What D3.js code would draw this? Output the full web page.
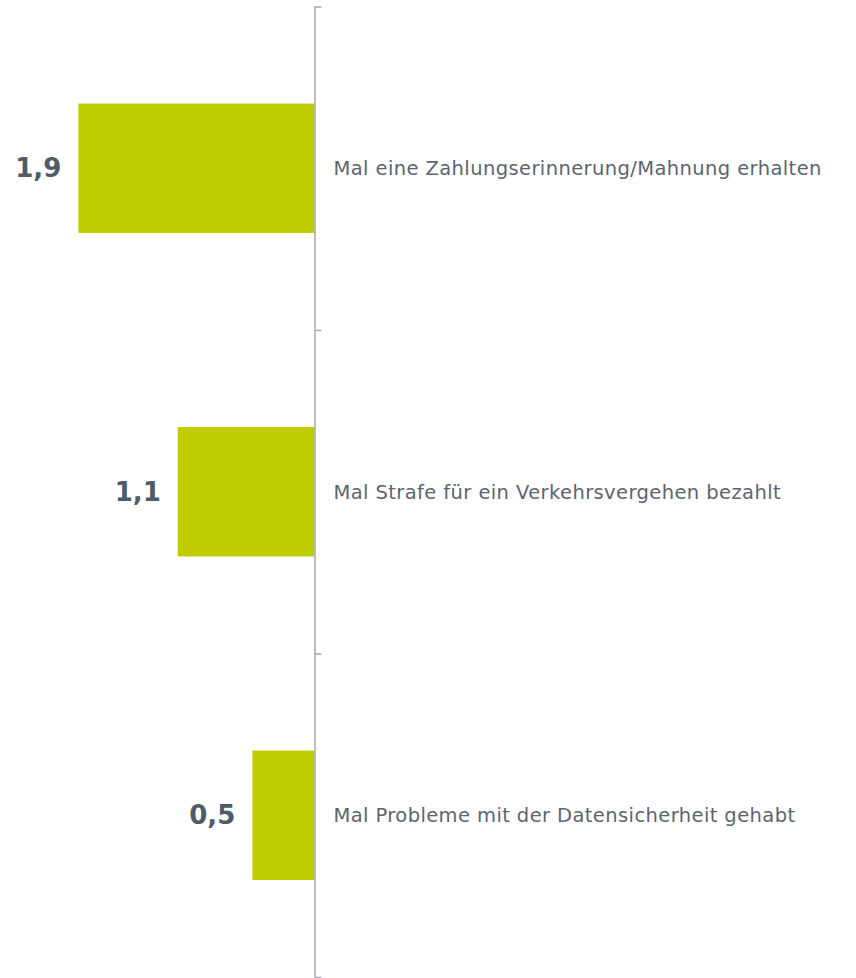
<!DOCTYPE html>
<html>
<head>
<meta charset="utf-8">
<script src="https://cdn.jsdelivr.net/npm/d3@7"></script>
<style>
  body { margin: 0; background: #fff; }
  .axis path, .axis line { stroke: #a3a8ae; stroke-width: 1.5; }
  .value { font-family: Verdana, "DejaVu Sans", sans-serif; font-weight: bold; font-size: 26px; fill: #4e5b68; }
  .cat { font-family: Verdana, "DejaVu Sans", sans-serif; font-size: 19.5px; letter-spacing: 0.4px; fill: #5b6571; }
</style>
</head>
<body>
<script>
// data
var categories = [
  'Mal eine Zahlungserinnerung/Mahnung erhalten',
  'Mal Strafe für ein Verkehrsvergehen bezahlt',
  'Mal Probleme mit der Datensicherheit gehabt'
];
var values = [1.9, 1.1, 0.5];
var valueLabels = ['1,9', '1,1', '0,5'];

var width = 856, height = 978;
var axisX = 314.5;

var svg = d3.select('body').append('svg')
  .attr('width', width)
  .attr('height', height);

// bars grow to the left of the axis
var x = d3.scaleLinear().domain([0, 2]).range([0, 248.6]);
var y = d3.scaleBand()
  .domain(categories)
  .range([6.5, 977])
  .paddingInner(0.6)
  .paddingOuter(0.3);

// axis with ticks at the band boundaries
var yb = d3.scaleLinear().domain([0, categories.length]).range([6.5, 977]);
var yAxis = d3.axisRight(yb)
  .tickValues(d3.range(categories.length + 1))
  .tickFormat('')
  .tickSize(7)
  .tickSizeOuter(0);

svg.selectAll('.bar')
  .data(values)
  .enter().append('rect')
  .attr('class', 'bar')
  .attr('x', function (d) { return axisX - x(d); })
  .attr('y', function (d, i) { return y(categories[i]); })
  .attr('width', function (d) { return x(d); })
  .attr('height', y.bandwidth())
  .attr('fill', '#bfcd00');

svg.append('g')
  .attr('class', 'axis')
  .attr('transform', 'translate(' + axisX + ',0)')
  .call(yAxis);

svg.selectAll('.value')
  .data(values)
  .enter().append('text')
  .attr('class', 'value')
  .attr('x', function (d) { return axisX - x(d) - 17; })
  .attr('y', function (d, i) { return y(categories[i]) + y.bandwidth() / 2; })
  .attr('dy', '0.35em')
  .attr('text-anchor', 'end')
  .text(function (d, i) { return valueLabels[i]; });

svg.selectAll('.cat')
  .data(categories)
  .enter().append('text')
  .attr('class', 'cat')
  .attr('x', axisX + 19)
  .attr('y', function (d) { return y(d) + y.bandwidth() / 2; })
  .attr('dy', '0.35em')
  .text(function (d) { return d; });
</script>
</body>
</html>
